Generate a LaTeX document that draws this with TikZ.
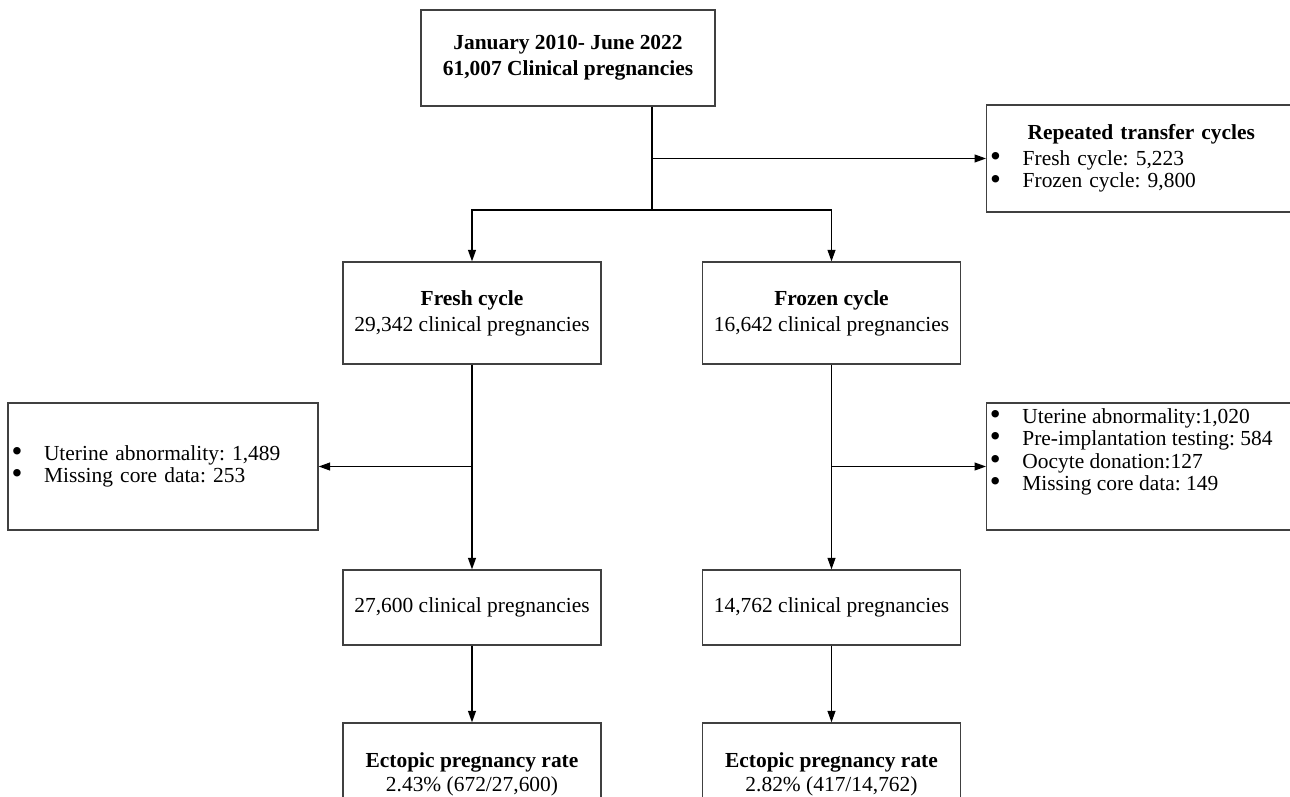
\documentclass[tikz,border=0pt]{standalone}
\usepackage{fontspec}
\setmainfont{Liberation Serif}
\usetikzlibrary{arrows.meta}
\newcommand{\itembullet}{\makebox[18.5pt][l]{\raisebox{-0.6pt}[0pt][0pt]{\scalebox{1.45}{\textbullet}}}}

\begin{document}
\begin{tikzpicture}[font=\fontsize{12.2}{12.8}\selectfont\frenchspacing,
    box/.style={draw=black!75, line width=0.75pt, align=center,
      minimum width=5.16cm, minimum height=2.04cm},
    listbox/.style={draw=black!75, line width=0.75pt, align=left,
      inner xsep=2pt, text width=#1},
    arr/.style={-{Triangle[length=6.5pt, width=4.5pt]}, line width=0.7pt}]
  \useasboundingbox (0,0) rectangle (25.8,-15.94);
  \clip (0,0) rectangle (25.8,-15.94);
  \node[box, minimum width=5.88cm, minimum height=1.92cm] (total) at (11.36,-1.16)
    {\textbf{January 2010- June 2022}\\[2pt]\textbf{61,007 Clinical pregnancies}};
  \node[listbox=9cm, minimum height=2.14cm, anchor=west] (repeated) at (19.72,-3.17)
    {\hspace*{21.3pt}\textbf{Repeated transfer cycles}\\[2pt]
     \itembullet Fresh cycle: 5,223\\ \itembullet Frozen cycle: 9,800};
  \node[box] (fresh) at (9.44,-6.26) {\textbf{Fresh cycle}\\[2pt]29,342 clinical pregnancies};
  \node[box] (frozen) at (16.63,-6.26) {\textbf{Frozen cycle}\\[2pt]16,642 clinical pregnancies};
  \node[listbox=6.06cm, minimum height=2.54cm] (exclfresh) at (3.26,-9.33)
    {\itembullet Uterine abnormality: 1,489\\ \itembullet Missing core data: 253};
  \node[listbox=9cm, minimum height=2.54cm, anchor=west,
    label={[anchor=north west, align=left, inner xsep=2pt]north west:{%
      \itembullet Uterine abnormality:1,020\\ \itembullet Pre-implantation testing: 584\\
      \itembullet Oocyte donation:127\\ \itembullet Missing core data: 149}}]
    (exclfrozen) at (19.72,-9.33) {};
  \node[box, minimum height=1.5cm] (fresh2) at (9.44,-12.15) {27,600 clinical pregnancies};
  \node[box, minimum height=1.5cm] (frozen2) at (16.63,-12.15) {14,762 clinical pregnancies};
  \node[box] (ratefresh) at (9.44,-15.48) {\textbf{Ectopic pregnancy rate}\\[1pt]2.43\% (672/27,600)};
  \node[box] (ratefrozen) at (16.63,-15.48) {\textbf{Ectopic pregnancy rate}\\[1pt]2.82\% (417/14,762)};

  \coordinate (split) at (13.04,-4.2);
  \draw[line width=0.7pt] (total.south -| split) -- (split);
  \draw[arr] (split |- repeated.west) -- (repeated.west);
  \draw[arr] (split) -| (fresh.north);
  \draw[arr] (split) -| (frozen.north);
  \draw[arr] (fresh.south) -- (fresh2.north);
  \draw[arr] (fresh.south |- exclfresh.east) -- (exclfresh.east);
  \draw[arr] (frozen.south) -- (frozen2.north);
  \draw[arr] (frozen.south |- exclfrozen.west) -- (exclfrozen.west);
  \draw[arr] (fresh2.south) -- (ratefresh.north);
  \draw[arr] (frozen2.south) -- (ratefrozen.north);
\end{tikzpicture}
\end{document}
